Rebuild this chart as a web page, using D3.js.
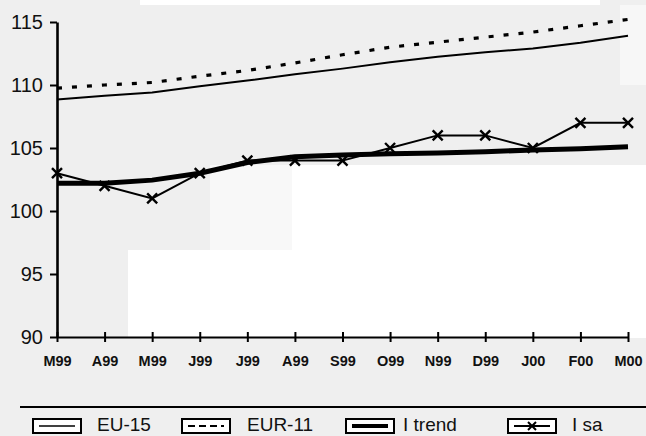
<!DOCTYPE html>
<html>
<head>
<meta charset="utf-8">
<script src="https://cdn.jsdelivr.net/npm/d3@7"></script>
<style>
  html, body { margin: 0; padding: 0; background: #efefef; }
  svg { display: block; }
</style>
</head>
<body>
<svg id="chart" width="646" height="436"></svg>
<script>
const months = ["M99","A99","M99","J99","J99","A99","S99","O99","N99","D99","J00","F00","M00"];
const eu15   = [108.85,109.15,109.4,109.9,110.35,110.85,111.3,111.8,112.25,112.6,112.9,113.35,113.9];
const eur11  = [109.75,110.0,110.2,110.7,111.15,111.75,112.4,113.0,113.4,113.8,114.2,114.7,115.2];
const itrend = [102.2,102.2,102.45,103.0,103.85,104.3,104.45,104.55,104.6,104.7,104.85,104.95,105.1];
const isa    = [103,102,101,103,104,104,104,105,106,106,105,107,107];
const yTicks = [90,95,100,105,110,115];
const legendLabels = ["EU-15","EUR-11","I trend","I sa"];

const svg = d3.select("#chart");
const W = 646, H = 436;

// background (scan-like patches)
svg.append("rect").attr("x",0).attr("y",0).attr("width",W).attr("height",H).attr("fill","#efefef");
svg.append("rect").attr("x",140).attr("y",0).attr("width",460).attr("height",5).attr("fill","#ffffff");
svg.append("rect").attr("x",620).attr("y",5).attr("width",26).attr("height",80).attr("fill","#f7f7f7");
svg.append("rect").attr("x",210).attr("y",165).attr("width",82).attr("height",85).attr("fill","#f8f8f8");
svg.append("rect").attr("x",292).attr("y",165).attr("width",354).attr("height",173).attr("fill","#ffffff");
svg.append("rect").attr("x",128).attr("y",250).attr("width",164).attr("height",88).attr("fill","#ffffff");

const x = d3.scalePoint().domain(d3.range(months.length)).range([57, 628]);
const y = d3.scaleLinear().domain([90, 115]).range([337, 22]);

// Y axis
const yAxis = svg.append("g").attr("transform","translate(57,0)")
  .call(d3.axisLeft(y).tickValues(yTicks).tickSize(7).tickPadding(7).tickSizeOuter(0));
yAxis.select(".domain").attr("stroke","#000").attr("stroke-width",2.6);
yAxis.selectAll(".tick line").attr("stroke","#000").attr("stroke-width",2);
yAxis.selectAll(".tick text").attr("font-family","'Liberation Sans', Arial, sans-serif")
  .attr("font-size",20).attr("fill","#111");

// X axis
const xAxis = svg.append("g").attr("transform","translate(0,337)")
  .call(d3.axisBottom(x).tickFormat(i => months[i]).tickSize(5).tickPadding(14).tickSizeOuter(0));
xAxis.select(".domain").attr("stroke","#000").attr("stroke-width",2);
xAxis.selectAll(".tick line").attr("stroke","#000").attr("stroke-width",2).attr("y1",-5);
xAxis.selectAll(".tick text").attr("font-family","'Liberation Sans', Arial, sans-serif")
  .attr("font-size",14.5).attr("font-weight","bold").attr("fill","#111");

const line = d3.line().x((d,i) => x(i)).y(d => y(d));

svg.append("path").datum(eu15).attr("d",line).attr("fill","none")
  .attr("stroke","#000").attr("stroke-width",2);
svg.append("path").datum(eur11).attr("d",line).attr("fill","none")
  .attr("stroke","#000").attr("stroke-width",3.2).attr("stroke-dasharray","5,10");
svg.append("path").datum(itrend).attr("d",line).attr("fill","none")
  .attr("stroke","#000").attr("stroke-width",5);
svg.append("path").datum(isa).attr("d",line).attr("fill","none")
  .attr("stroke","#000").attr("stroke-width",2);
svg.selectAll("path.mark").data(isa).enter().append("path").attr("class","mark")
  .attr("transform",(d,i) => `translate(${x(i)},${y(d)})`)
  .attr("d","M-5,-5L5,5M5,-5L-5,5")
  .attr("stroke","#000").attr("stroke-width",2.4).attr("fill","none");

// Legend
svg.append("line").attr("x1",20).attr("x2",646).attr("y1",407).attr("y2",407)
  .attr("stroke","#000").attr("stroke-width",2);
const boxX = [33,182,346,508];
const textX = [97,247,403,572];
const lg = svg.append("g");
legendLabels.forEach((lab,k) => {
  const bx = boxX[k], by = 419, bw = 48, bh = 14;
  lg.append("rect").attr("x",bx).attr("y",by).attr("width",bw).attr("height",bh)
    .attr("fill","#fff").attr("stroke","#000").attr("stroke-width",2);
  const ly = by + bh/2;
  const l = lg.append("line").attr("x1",bx+6).attr("x2",bx+bw-6).attr("y1",ly).attr("y2",ly)
    .attr("stroke","#000");
  if (k === 0) l.attr("stroke-width",1.5);
  if (k === 1) l.attr("stroke-width",2).attr("stroke-dasharray","7,4");
  if (k === 2) l.attr("stroke-width",4);
  if (k === 3) {
    l.attr("stroke-width",2);
    lg.append("path").attr("transform",`translate(${bx+bw/2},${ly})`)
      .attr("d","M-4,-4L4,4M4,-4L-4,4").attr("stroke","#000").attr("stroke-width",2);
  }
  lg.append("text").attr("x",textX[k]).attr("y",431).text(lab)
    .attr("font-family","'Liberation Sans', Arial, sans-serif").attr("font-size",19).attr("fill","#111");
});
</script>
</body>
</html>
